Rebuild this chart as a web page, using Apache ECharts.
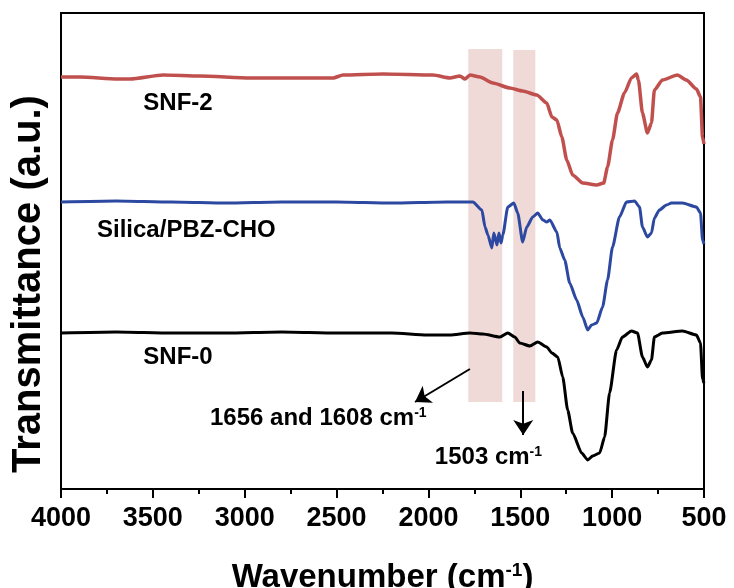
<!DOCTYPE html>
<html>
<head>
<meta charset="utf-8">
<script src="https://cdn.jsdelivr.net/npm/echarts@6/dist/echarts.min.js"></script>
<style>
html, body { margin: 0; padding: 0; background: #fff; }
#main { width: 734px; height: 588px; }
</style>
</head>
<body>
<div id="main"></div>
<script>
// FTIR spectra, values (transmittance in arbitrary offset units)
var wnRed = [4000, 3895, 3694, 3623, 3444, 3243, 2971, 2699, 2519, 2465, 2248, 1975, 1883, 1829, 1801, 1774, 1720, 1649, 1557, 1487,
  1410, 1356, 1328, 1301, 1274, 1247, 1215, 1160, 1084, 1046, 1025, 998, 971, 933, 895, 867, 857, 835, 808, 786,
  770, 726, 645, 596, 541, 519, 508, 500];
var tRed = [412, 412, 410, 410, 414, 413, 411, 411, 411, 414, 415, 414, 411, 413, 410, 414, 412, 406, 401, 398,
  394, 386, 372, 369, 352, 329, 314, 306, 304, 306, 322, 349, 376, 396, 411, 415, 409, 376, 356, 366,
  399, 409, 414, 409, 400, 392, 352, 345];

var wnBlue = [4000, 3700, 3400, 3100, 2800, 2500, 2200, 1900, 1758, 1709, 1692, 1676, 1655, 1644, 1627, 1616, 1605, 1595, 1568, 1535,
  1514, 1487, 1465, 1432, 1405, 1377, 1356, 1339, 1301, 1285, 1258, 1231, 1193, 1160, 1133, 1112, 1084, 1052, 1025, 998,
  960, 922, 878, 851, 835, 808, 786, 770, 743, 704, 677, 617, 541, 519, 508, 500];
var tBlue = [287, 288, 287, 286, 287, 287, 286, 287, 287, 279, 262, 254, 241, 256, 244, 256, 246, 254, 282, 286,
  276, 247, 262, 272, 276, 269, 267, 269, 257, 241, 229, 206, 189, 172, 159, 164, 166, 182, 209, 242,
  272, 287, 288, 282, 262, 252, 256, 271, 279, 284, 286, 286, 282, 276, 249, 245];

var wnBlack = [4000, 3700, 3400, 3100, 2800, 2500, 2200, 2008, 1883, 1774, 1704, 1611, 1568, 1530, 1503, 1448, 1405, 1356, 1328, 1296,
  1269, 1242, 1215, 1166, 1133, 1106, 1068, 1041, 1014, 976, 944, 895, 862, 835, 808, 786, 770, 726, 617, 541,
  519, 508, 500];
var tBlack = [156, 157, 156, 156, 157, 156, 156, 154, 154, 156, 155, 152, 156, 152, 146, 143, 147, 142, 136, 132,
  112, 79, 56, 36, 29, 33, 36, 52, 96, 139, 152, 158, 156, 132, 122, 129, 152, 156, 158, 154,
  146, 110, 106];

var seriesNames = ['SNF-2', 'Silica/PBZ-CHO', 'SNF-0'];

// shaded bands [from, to, bottom, top]
var bands = [[1783, 1598, 87, 440], [1538, 1418, 87, 439]];

// label text: [wavenumber, value, main text, superscript]
var notes = [
  [3552, 386, 'SNF-2', ''],
  [3804, 259, 'Silica/PBZ-CHO', ''],
  [3552, 132, 'SNF-0', ''],
  [3189, 71, '1656 and 1608 cm', '-1'],
  [1965, 32, '1503 cm', '-1']
];

// arrows [x0, y0, x1, y1]
var arrows = [[1774, 120, 2073, 87], [1484, 98, 1484, 54]];

function pairs(xs, ys) {
  return xs.map(function (x, i) { return [x, ys[i]]; });
}

var font = '"Liberation Sans", Arial, sans-serif';

var myChart = echarts.init(document.getElementById('main'));

var option = {
  animation: false,
  backgroundColor: '#fff',
  grid: {
    left: 61, right: 30, top: 13, bottom: 99,
    show: true, borderColor: '#000', borderWidth: 2,
    outerBoundsMode: 'none'
  },
  xAxis: {
    type: 'value',
    inverse: true,
    min: 500,
    max: 4000,
    interval: 500,
    axisLine: { lineStyle: { color: '#000', width: 2 } },
    axisTick: { show: true, inside: false, length: 9, lineStyle: { color: '#000', width: 2 } },
    minorTick: { show: true, splitNumber: 2, length: 5, lineStyle: { color: '#000', width: 2 } },
    splitLine: { show: false },
    axisLabel: {
      color: '#000', fontFamily: font, fontWeight: 'bold', fontSize: 27, margin: 16,
      formatter: function (v) { return String(v); }
    },
    name: '{a|Wavenumber (cm}{s|-1}{a|)}',
    nameLocation: 'middle',
    nameGap: 72,
    nameTextStyle: {
      rich: {
        a: { color: '#000', fontFamily: font, fontWeight: 'bold', fontSize: 33 },
        s: { color: '#000', fontFamily: font, fontWeight: 'bold', fontSize: 19, verticalAlign: 'top' }
      }
    }
  },
  yAxis: {
    type: 'value',
    min: 0,
    max: 476,
    axisLine: { show: true, lineStyle: { color: '#000', width: 2 } },
    axisTick: { show: false },
    axisLabel: { show: false },
    splitLine: { show: false },
    name: 'Transmittance (a.u.)',
    nameLocation: 'middle',
    nameGap: 12,
    nameTextStyle: { color: '#000', fontFamily: font, fontWeight: 'bold', fontSize: 40, padding: [0, 66, 0, 0] }
  },
  series: [
    {
      type: 'line',
      name: 'bands',
      data: [],
      z: 1,
      markArea: {
        silent: true,
        itemStyle: { color: 'rgb(240,218,216)' },
        data: bands.map(function (b) {
          return [{ coord: [b[0], b[3]] }, { coord: [b[1], b[2]] }];
        })
      },
      markLine: {
        silent: true,
        symbol: ['none', 'arrow'],
        symbolSize: 15,
        label: { show: false },
        lineStyle: { color: '#000', width: 2, type: 'solid' },
        data: arrows.map(function (a) {
          return [{ coord: [a[0], a[1]] }, { coord: [a[2], a[3]] }];
        })
      },
      markPoint: {
        silent: true,
        symbol: 'circle',
        symbolSize: 0,
        label: {
          show: true,
          position: 'right',
          distance: 0,
          formatter: function (p) {
            var n = notes[p.dataIndex];
            return '{t|' + n[2] + '}' + (n[3] ? '{s|' + n[3] + '}' : '');
          },
          rich: {
            t: { color: '#000', fontFamily: font, fontWeight: 'bold', fontSize: 24 },
            s: { color: '#000', fontFamily: font, fontWeight: 'bold', fontSize: 14, verticalAlign: 'top' }
          }
        },
        data: notes.map(function (n) { return { coord: [n[0], n[1]] }; })
      }
    },
    {
      type: 'line', name: seriesNames[0], data: pairs(wnRed, tRed), z: 3,
      showSymbol: false, smooth: 0.2, smoothMonotone: 'x',
      lineStyle: { color: '#c0504d', width: 3.5 }
    },
    {
      type: 'line', name: seriesNames[1], data: pairs(wnBlue, tBlue), z: 3,
      showSymbol: false, smooth: 0.2, smoothMonotone: 'x',
      lineStyle: { color: '#2c48a0', width: 3 }
    },
    {
      type: 'line', name: seriesNames[2], data: pairs(wnBlack, tBlack), z: 3,
      showSymbol: false, smooth: 0.2, smoothMonotone: 'x',
      lineStyle: { color: '#000', width: 3 }
    }
  ]
};

myChart.setOption(option);
</script>
</body>
</html>
